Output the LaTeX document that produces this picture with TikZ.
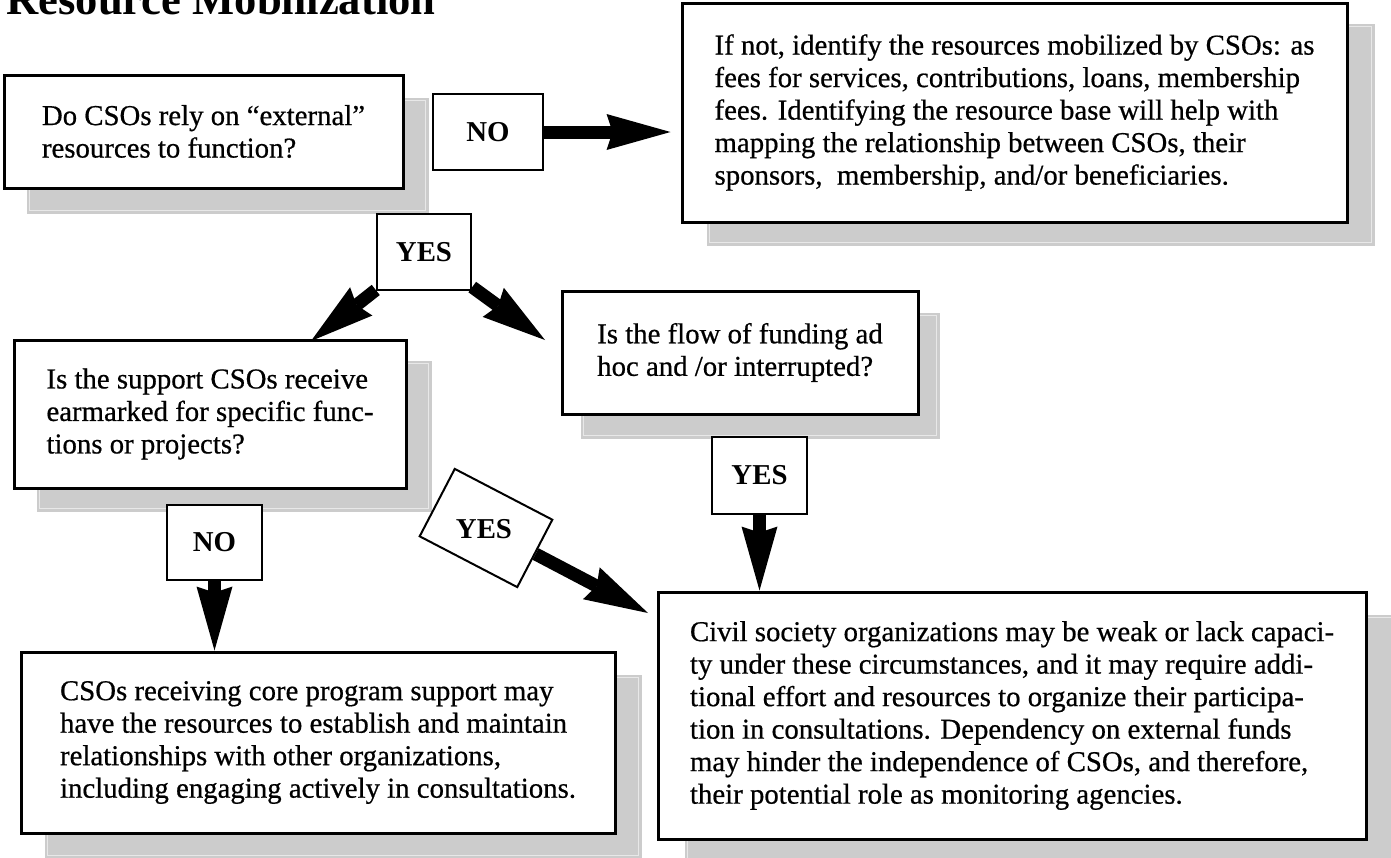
\documentclass[tikz,border=0pt]{standalone}
\usepackage{fontspec}
\setmainfont{Liberation Serif}
\newfontfamily\boxfont[FakeBold=0.6]{Liberation Serif}
\usetikzlibrary{calc,arrows.meta}
\pgfdeclarelayer{back}
\pgfsetlayers{back,main}
\def\dropshade(#1)(#2,#3){\fill[black!20] ([shift={(#2,#3)}]#1.south west) rectangle ([shift={(#2,#3)}]#1.north east);
	\draw[black!9, line width=1pt] ([shift={(#2+3,#3-3)}]#1.south west) rectangle ([shift={(#2-3,#3+3)}]#1.north east);}

\tikzset{
	bigbox/.style={draw, line width=3pt, fill=white, align=left, inner sep=0pt, font=\boxfont\fontsize{28.8}{32.5}\selectfont},
	answer/.style={draw, line width=2.5pt, fill=white, inner sep=0pt, minimum height=76pt, font=\fontsize{28.8}{32.5}\selectfont\bfseries},
	fatarrow/.style={line width=13pt, -{Stealth[length=64pt, width=36pt, inset=6pt, line width=0pt]}}
}

\begin{document}
\begin{tikzpicture}[x=1pt, y=-1pt]
			%%%%% START %%%%%
			\useasboundingbox (0,0) rectangle (1391,857);
			
			\node[anchor=base west, font=\fontsize{44.6}{50}\selectfont\bfseries] (title) at (3,14) {Resource Mobilization};
			
			\node[bigbox, minimum width=399pt, minimum height=113pt] (external) at (203.5,131.5) {Do CSOs rely on “external”\\resources to function?};
			\node[answer, minimum width=110pt] (noright) at (488,132) {NO};
			\node[bigbox, minimum width=665pt, minimum height=219pt] (ifnot) at (1014.5,112.5) {If not, identify the resources mobilized by CSOs: as\\fees for services, contributions, loans, membership\\fees. Identifying the resource base will help with\\mapping the relationship between CSOs, their\\sponsors,\ \ membership, and/or beneficiaries.};
			
			\node[answer, minimum width=94pt] (yestop) at (424,252) {YES};
			
			\node[bigbox, minimum width=392pt, minimum height=148pt] (support) at (210,414) {Is the support CSOs receive\\earmarked for specific func-\\tions or projects?};
			\node[bigbox, minimum width=356pt, minimum height=123pt] (flow) at (740,352.5) {Is the flow of funding ad\\hoc and /or interrupted?};
			
			\node[answer, minimum width=95pt, minimum height=77pt] (yesflow) at (759.5,475.5) {YES};
			\node[answer, minimum width=95pt, minimum height=75pt] (nosupport) at (214.5,542.5) {NO};
			% tilted frame, upright text
			\node[answer, line width=2pt, minimum width=110pt, rotate=-27.5] (yessupport) at (486,528) {};
			\node[font=\fontsize{28.8}{32.5}\selectfont\bfseries, inner sep=0pt] (yessupporttext) at (484,529) {YES};
			
			\node[bigbox, minimum width=594pt, minimum height=181pt] (core) at (318,742.5) {CSOs receiving core program support may\\have the resources to establish and maintain\\relationships with other organizations,\\including engaging actively in consultations.};
			\node[bigbox, minimum width=708pt, minimum height=247pt] (civil) at (1012,715.5) {Civil society organizations may be weak or lack capaci-\\ty under these circumstances, and it may require addi-\\tional effort and resources to organize their participa-\\tion in consultations. Dependency on external funds\\may hinder the independence of CSOs, and therefore,\\their potential role as monitoring agencies.};
			
			\coordinate (tipleft) at (311,341);
			\coordinate (tipright) at (545,340);
			\coordinate (tipcivil) at (648,613);
			
			\begin{pgfonlayer}{back}
				\dropshade(external)(24,24)
				\dropshade(ifnot)(26,22)
				\dropshade(support)(24,22)
				\dropshade(flow)(20,23)
				\dropshade(core)(25,24)
				\dropshade(civil)(28,24)
				
				\draw[fatarrow, shorten >=10pt] (noright) -- (noright -| ifnot.west);
				\draw[fatarrow] (yestop) -- (tipleft);
				\draw[fatarrow] (yestop) -- (tipright);
				\draw[fatarrow] (yesflow) -- (yesflow |- civil.north);
				\draw[fatarrow] (nosupport) -- (nosupport |- core.north);
				\draw[fatarrow] (yessupport) -- (tipcivil);
			\end{pgfonlayer}
			
			%%%%% END %%%%%
\end{tikzpicture}
\end{document}
